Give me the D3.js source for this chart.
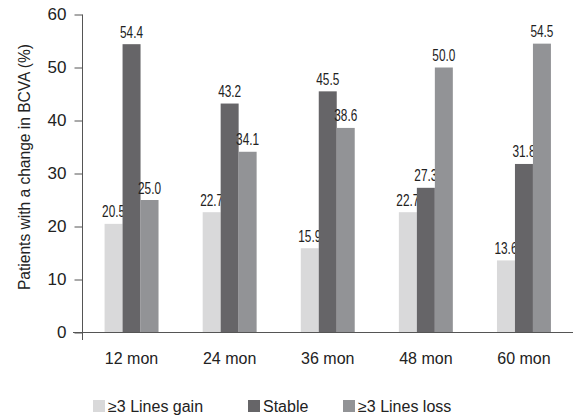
<!DOCTYPE html>
<html><head><meta charset="utf-8">
<script src="https://cdn.jsdelivr.net/npm/d3@7"></script>
<style>
body{margin:0;background:#fff;}
svg{display:block;font-family:"Liberation Sans",Arial,Helvetica,sans-serif;}
</style></head>
<body><div id="chart"></div>
<script>
const categories = ["12 mon","24 mon","36 mon","48 mon","60 mon"];
const seriesNames = ["\u22653 Lines gain","Stable","\u22653 Lines loss"];
const gainValues = [20.5,22.7,15.9,22.7,13.6];
const stableValues = [54.4,43.2,45.5,27.3,31.8];
const lossValues = [25.0,34.1,38.6,50.0,54.5];
const yTicks = [0,10,20,30,40,50,60];
const colors = ["#d9d9da","#666568","#929396"];
const seriesValues = [gainValues, stableValues, lossValues];

const W=574,H=417;
const svg=d3.select("#chart").append("svg").attr("width",W).attr("height",H);
const axisX=82.5, y0=332.5, yTop=14.5;
const y=d3.scaleLinear().domain([0,60]).range([y0,yTop]);
const x0=d3.scaleBand().domain(categories).range([axisX,573]).paddingInner(0.45).paddingOuter(0.225);
const x1=d3.scaleBand().domain(seriesNames).range([0,x0.bandwidth()]);

// bars
categories.forEach((c,ci)=>{
  seriesNames.forEach((s,si)=>{
    const v=seriesValues[si][ci];
    svg.append("rect").attr("x",x0(c)+x1(s)).attr("y",y(v))
      .attr("width",x1.bandwidth()).attr("height",y(0)-y(v)).attr("fill",colors[si]);
    svg.append("text")
      .attr("transform",`translate(${x0(c)+x1(s)+x1.bandwidth()/2},${y(v)-6.5}) scale(0.74,1)`)
      .attr("text-anchor","middle")
      .attr("font-size",16).attr("fill","#222").text(v.toFixed(1));
  });
});

// axes
const ax="#555";
svg.append("line").attr("x1",axisX).attr("x2",axisX).attr("y1",yTop).attr("y2",340).attr("stroke",ax).attr("stroke-width",1);
svg.append("line").attr("x1",73).attr("x2",573).attr("y1",y0).attr("y2",y0).attr("stroke",ax).attr("stroke-width",1);
const yAxis=d3.axisLeft(y).tickValues(yTicks).tickSize(8).tickPadding(8);
const g=svg.append("g").attr("transform",`translate(${axisX},0)`).call(yAxis);
g.select(".domain").remove();
g.selectAll(".tick line").attr("stroke",ax);
g.selectAll(".tick text").attr("font-size",17).attr("fill","#222").attr("font-family","'Liberation Sans',Arial,sans-serif");

// category labels
svg.selectAll(".cat").data(categories).enter().append("text")
  .attr("x",d=>x0(d)+x0.bandwidth()/2).attr("y",363.5)
  .attr("text-anchor","middle").attr("font-size",16).attr("fill","#222").text(d=>d);

// y label
svg.append("text").attr("transform","translate(30,167) rotate(-90)")
  .attr("text-anchor","middle").attr("font-size",16).attr("fill","#222")
  .attr("textLength",246).attr("lengthAdjust","spacingAndGlyphs")
  .text("Patients with a change in BCVA (%)");

// legend
const legX=[93,248,343];
seriesNames.forEach((s,i)=>{
  svg.append("rect").attr("x",legX[i]).attr("y",400).attr("width",12).attr("height",12).attr("fill",colors[i]);
  svg.append("text").attr("x",legX[i]+15).attr("y",411.5).attr("font-size",16).attr("fill","#222").text(s);
});
</script></body></html>
